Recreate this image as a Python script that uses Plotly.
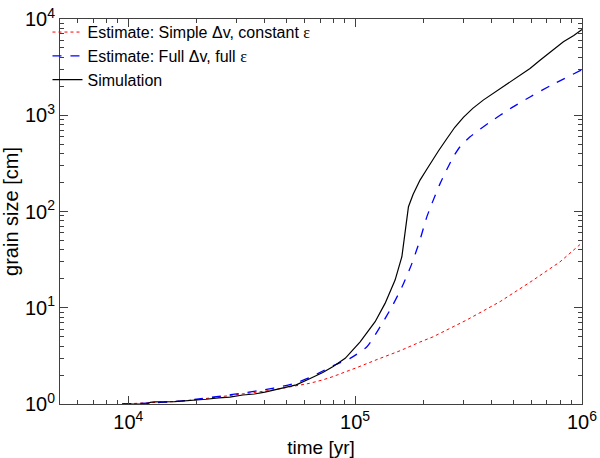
import plotly.graph_objects as go

# time [yr] and grain size [cm]
t_simple = [9.4e3, 1.2e4, 1.6e4, 2.0e4, 2.5e4, 3.2e4, 4.0e4, 4.8e4, 5.5e4, 6.3e4,
            7.2e4, 8.0e4, 9.5e4, 1.0e5, 1.25e5, 1.58e5, 1.93e5, 2.21e5, 3.1e5,
            4.36e5, 6.1e5, 8.0e5, 1.0e6]
a_simple = [1.0, 1.02, 1.06, 1.11, 1.18, 1.26, 1.36, 1.46, 1.54, 1.64,
            1.78, 1.93, 2.25, 2.35, 2.9, 3.58, 4.4, 5.0, 7.45,
            11.6, 19.4, 30.0, 47.3]

t_full = [9.4e3, 1.2e4, 1.6e4, 2.0e4, 2.5e4, 3.2e4, 4.0e4, 4.8e4, 5.5e4, 6.3e4,
          7.2e4, 8.0e4, 9.5e4, 1.127e5, 1.29e5, 1.45e5, 1.61e5, 1.78e5, 1.93e5,
          2.07e5, 2.14e5, 2.18e5, 2.37e5, 2.71e5, 2.9e5, 3.21e5, 3.94e5, 4.82e5,
          5.9e5, 7.23e5, 1.0e6]
a_full = [1.0, 1.02, 1.06, 1.12, 1.2, 1.3, 1.41, 1.53, 1.66, 1.88,
          2.2, 2.5, 2.98, 3.94, 6.35, 10.2, 16.5, 28.9, 50.5,
          88.0, 108.0, 121.0, 196.0, 370.0, 471.0, 597.0, 853.0, 1167.0,
          1549.0, 2018.0, 2978.0]

t_sim = [9.4e3, 1.2e4, 1.25e4, 1.3e4, 1.6e4, 1.8e4, 1.9e4, 2.2e4, 2.5e4, 2.8e4,
         3.2e4, 3.6e4, 4.0e4, 4.5e4, 5.0e4, 5.5e4, 6.3e4, 7.2e4, 8.0e4,
         9.04e4, 1.052e5, 1.225e5, 1.355e5, 1.5e5, 1.607e5, 1.66e5, 1.718e5,
         1.8e5, 1.871e5, 1.932e5, 2.07e5, 2.213e5, 2.328e5, 2.535e5, 2.75e5,
         3.0e5, 3.3e5, 3.67e5, 4.5e5, 5.33e5, 5.9e5, 6.53e5, 7.4e5, 8.28e5,
         9.2e5, 1.0e6]
a_sim = [1.0, 1.0, 1.04, 1.05, 1.06, 1.08, 1.1, 1.12, 1.16, 1.18,
         1.24, 1.27, 1.33, 1.42, 1.48, 1.58, 1.83, 2.12, 2.45,
         2.98, 4.43, 7.16, 11.1, 19.4, 33.9, 59.3, 112.0,
         150.0, 181.0, 212.0, 275.0, 355.0, 425.0, 570.0, 750.0,
         950.0, 1180.0, 1436.0, 1972.0, 2600.0, 3063.0, 3729.0, 4750.0, 5808.0,
         6750.0, 7768.0]

x_ticks = [1e4, 1e5, 1e6]
x_labels = ["10<sup>4</sup>", "10<sup>5</sup>", "10<sup>6</sup>"]
y_ticks = [1, 10, 100, 1000, 10000]
y_labels = ["10<sup>0</sup>", "10<sup>1</sup>", "10<sup>2</sup>", "10<sup>3</sup>", "10<sup>4</sup>"]

# minor log ticks: 2..9 in every decade
x_minor = [m * 10 ** d for d in range(3, 6) for m in range(2, 10) if 5e3 <= m * 10 ** d <= 1e6]
y_minor = [m * 10 ** d for d in range(0, 4) for m in range(2, 10)]

eps = '<span style="font-family:Liberation Serif">\u03b5</span>'

fig = go.Figure()
fig.add_trace(go.Scatter(
    x=t_simple, y=a_simple, mode="lines",
    name="Estimate: Simple \u0394v, constant " + eps,
    line=dict(color="#ff0000", width=1, dash="dot"),
))
fig.add_trace(go.Scatter(
    x=t_full, y=a_full, mode="lines",
    name="Estimate: Full \u0394v, full " + eps,
    line=dict(color="#0000ff", width=1.3, dash="dash", shape="spline", smoothing=0.6),
))
fig.add_trace(go.Scatter(
    x=t_sim, y=a_sim, mode="lines",
    name="Simulation",
    line=dict(color="#000000", width=1.2),
))

axis_common = dict(
    type="log",
    showgrid=False,
    zeroline=False,
    showline=True,
    linecolor="#404040",
    linewidth=1,
    mirror="allticks",
    ticks="inside",
    ticklen=8,
    tickcolor="#404040",
    automargin=False,
    tickfont=dict(family="Liberation Sans, Arial, sans-serif", size=20, color="black"),
)

fig.update_xaxes(
    **axis_common,
    range=[3.699, 6],
    tickvals=x_ticks,
    ticktext=x_labels,
    minor=dict(ticks="inside", ticklen=4, tickcolor="#404040", showgrid=False, tickvals=x_minor),
    title=dict(text="time [yr]", font=dict(size=19, color="black"), standoff=13),
)
fig.update_yaxes(
    **axis_common,
    range=[0, 4],
    tickvals=y_ticks,
    ticktext=y_labels,
    minor=dict(ticks="inside", ticklen=4, tickcolor="#404040", showgrid=False, tickvals=y_minor),
    title=dict(text="grain size [cm]", font=dict(size=20, color="black"), standoff=0),
)

fig.update_layout(
    width=600,
    height=458,
    margin=dict(l=60, r=18, t=19, b=54),
    paper_bgcolor="white",
    plot_bgcolor="white",
    font=dict(family="Liberation Sans, Arial, sans-serif", color="black"),
    showlegend=True,
    legend=dict(
        x=-0.024, y=1.01, xanchor="left", yanchor="top",
        bgcolor="rgba(0,0,0,0)",
        font=dict(size=16, color="black"),
        tracegroupgap=0,
        itemwidth=30,
    ),
)

# drop the browser's default body margin so the figure sits at the page corner
fig.write_html(
    "out.html",
    config={"displayModeBar": False},
    post_script="document.body.style.margin = '0';",
)
